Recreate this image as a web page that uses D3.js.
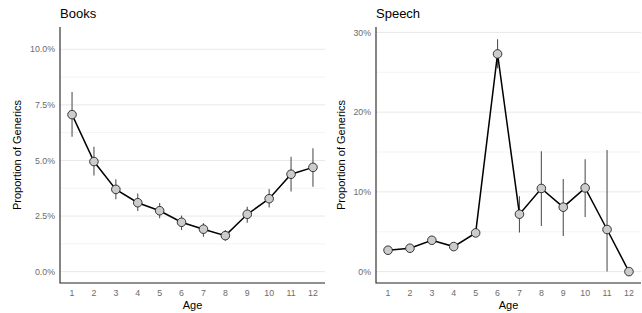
<!DOCTYPE html>
<meta charset="utf-8">
<script src="https://d3js.org/d3.v7.min.js"></script>
<style>
  body { margin: 0; background: #fff; }
  text { font-family: "Liberation Sans", Arial, sans-serif; }
</style>
<div id="chart"></div>
<script>

// ages on the x axis
var ages = [1, 2, 3, 4, 5, 6, 7, 8, 9, 10, 11, 12];

// Books: proportion of generics (%), with error bar ends
var booksMean = [7.06, 4.95, 3.70, 3.10, 2.74, 2.22, 1.91, 1.62, 2.58, 3.28, 4.38, 4.69];
var booksLow  = [6.06, 4.32, 3.26, 2.73, 2.40, 1.87, 1.57, 1.39, 2.20, 2.88, 3.60, 3.82];
var booksHigh = [8.08, 5.62, 4.15, 3.51, 3.09, 2.52, 2.18, 1.87, 2.92, 3.72, 5.17, 5.55];

// Speech
var speechMean = [2.68, 2.93, 3.93, 3.14, 4.85, 27.30, 7.20, 10.43, 8.08, 10.50, 5.28, 0];
var speechLow  = [2.68, 2.93, 3.93, 3.14, 4.85, 25.5, 4.90, 5.73, 4.47, 6.86, 0, 0];
var speechHigh = [2.68, 2.93, 3.93, 3.14, 4.85, 29.15, 9.46, 15.08, 11.6, 14.1, 15.24, 0];

var booksTicks = [0, 2.5, 5, 7.5, 10];
var booksMinor = [1.25, 3.75, 6.25, 8.75];
var speechTicks = [0, 10, 20, 30];
var speechMinor = [5, 15, 25];

var svg = d3.select("#chart")
  .append("svg")
    .attr("width", 642)
    .attr("height", 313);

function panel(opts) {
  var left = opts.left, right = opts.right, top = 27, bottom = 283;

  var x = d3.scaleLinear().domain([0.45, 12.55]).range([left, right]);
  var y = d3.scaleLinear().domain(opts.ydomain).range([bottom, top]);

  var g = svg.append("g");

  // minor + major gridlines
  g.selectAll("line.minor")
    .data(opts.minor)
    .enter().append("line")
      .attr("x1", left).attr("x2", right)
      .attr("y1", function(d){ return y(d) }).attr("y2", function(d){ return y(d) })
      .attr("stroke", "#f3f3f3").attr("stroke-width", 1);
  g.selectAll("line.major")
    .data(opts.ticks)
    .enter().append("line")
      .attr("x1", left).attr("x2", right)
      .attr("y1", function(d){ return y(d) }).attr("y2", function(d){ return y(d) })
      .attr("stroke", "#e8e8e8").attr("stroke-width", 1);

  // y tick labels
  g.selectAll("text.ytick")
    .data(opts.ticks)
    .enter().append("text")
      .attr("x", left - 5)
      .attr("y", function(d){ return y(d) })
      .attr("dy", "0.35em")
      .attr("text-anchor", "end")
      .style("font-size", "8.8px")
      .style("fill", "#6b6b6b")
      .text(opts.fmt);

  // x tick labels
  g.selectAll("text.xtick")
    .data(ages)
    .enter().append("text")
      .attr("x", function(d){ return x(d) })
      .attr("y", bottom + 13)
      .attr("text-anchor", "middle")
      .style("font-size", "8.8px")
      .style("fill", "#6b6b6b")
      .text(function(d){ return d });

  // axis lines
  g.append("path")
    .attr("d", "M" + left + "," + top + "V" + bottom + "H" + right)
    .attr("fill", "none")
    .attr("stroke", "#222")
    .attr("stroke-width", 1.1);

  // error bars
  g.selectAll("line.err")
    .data(ages)
    .enter().append("line")
      .attr("x1", function(d){ return x(d) }).attr("x2", function(d){ return x(d) })
      .attr("y1", function(d, i){ return y(opts.low[i]) })
      .attr("y2", function(d, i){ return y(opts.high[i]) })
      .attr("stroke", "#555")
      .attr("stroke-width", 1.1);

  // line
  g.append("path")
    .datum(ages)
    .attr("d", d3.line()
      .x(function(d){ return x(d) })
      .y(function(d, i){ return y(opts.mean[i]) }))
    .attr("fill", "none")
    .attr("stroke", "#000")
    .attr("stroke-width", 1.5);

  // points
  g.selectAll("circle")
    .data(ages)
    .enter().append("circle")
      .attr("cx", function(d){ return x(d) })
      .attr("cy", function(d, i){ return y(opts.mean[i]) })
      .attr("r", 4.3)
      .attr("fill", "#cccccc")
      .attr("stroke", "#222")
      .attr("stroke-width", 0.9);

  // titles
  g.append("text")
    .attr("x", left).attr("y", 18)
    .style("font-size", "13px")
    .text(opts.title);

  g.append("text")
    .attr("x", (left + right) / 2).attr("y", bottom + 26)
    .attr("text-anchor", "middle")
    .style("font-size", "11px")
    .text("Age");

  g.append("text")
    .attr("transform", "translate(" + opts.ylabX + "," + ((top + bottom) / 2) + ") rotate(-90)")
    .attr("text-anchor", "middle")
    .style("font-size", "11px")
    .text("Proportion of Generics");
}

panel({
  title: "Books", left: 60, right: 325,
  ydomain: [-0.51, 11.0],
  ticks: booksTicks, minor: booksMinor,
  fmt: function(d){ return d.toFixed(1) + "%" },
  mean: booksMean, low: booksLow, high: booksHigh,
  ylabX: 21
});

panel({
  title: "Speech", left: 376, right: 641,
  ydomain: [-1.43, 30.68],
  ticks: speechTicks, minor: speechMinor,
  fmt: function(d){ return d + "%" },
  mean: speechMean, low: speechLow, high: speechHigh,
  ylabX: 345
});

</script>
